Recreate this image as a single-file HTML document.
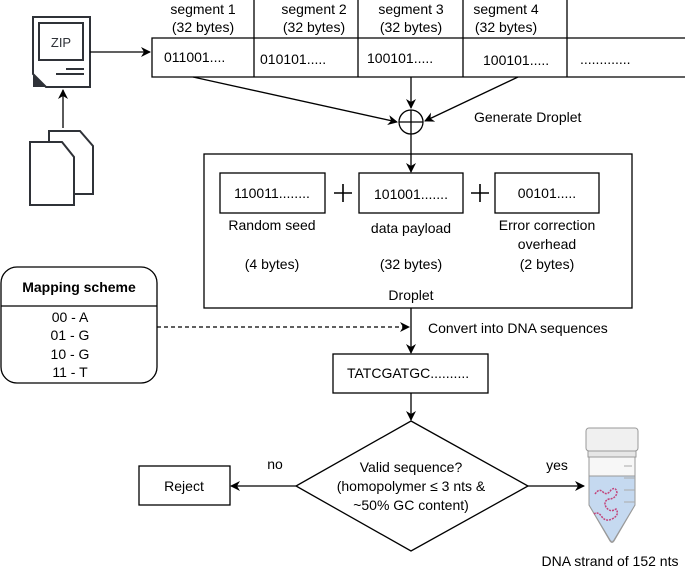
<!DOCTYPE html>
<html><head><meta charset="utf-8"><style>
body{margin:0;background:#fff}
svg{display:block;font-family:"Liberation Sans",sans-serif;font-size:14px}
</style></head><body>
<svg width="685" height="568" viewBox="0 0 685 568" xmlns="http://www.w3.org/2000/svg">
<defs>
<marker id="a" markerWidth="10" markerHeight="10" refX="9" refY="5" orient="auto" markerUnits="userSpaceOnUse"><path d="M0,0 L10,5 L0,10 L3,5 Z" fill="#000"/></marker>
</defs>
<g fill="#000" text-anchor="middle">
<text x="203" y="14">segment 1</text><text x="203" y="32">(32 bytes)</text>
<text x="314" y="14">segment 2</text><text x="314" y="32">(32 bytes)</text>
<text x="411" y="14">segment 3</text><text x="411" y="32">(32 bytes)</text>
<text x="506" y="14">segment 4</text><text x="506" y="32">(32 bytes)</text>
</g>
<g stroke="#000" stroke-width="1.3" fill="none">
<line x1="254" y1="0" x2="254" y2="77"/><line x1="358" y1="0" x2="358" y2="77"/>
<line x1="463" y1="0" x2="463" y2="77"/><line x1="567" y1="0" x2="567" y2="77"/>
<path d="M685,38 H152 V77 H685"/>
</g>
<g fill="#000">
<text x="164" y="62">011001....</text><text x="260" y="64">010101.....</text>
<text x="367" y="63">100101.....</text><text x="483" y="65">100101.....</text>
<text x="580" y="64">.............</text>
</g>
<g stroke="#2f3238" stroke-width="2" fill="none">
<path d="M33,17 H90 V87 H46 L33,74 Z"/>
<rect x="39" y="23" width="44" height="37"/>
<line x1="56" y1="74" x2="84" y2="74"/><line x1="66" y1="69" x2="84" y2="69"/>
</g>
<path d="M33,74 L46,87 L33,87 Z" fill="#2f3238"/>
<text x="61" y="47" font-size="13" text-anchor="middle" fill="#2f3238">ZIP</text>
<line x1="90" y1="52" x2="150" y2="52" stroke="#000" stroke-width="1.3" marker-end="url(#a)"/>
<line x1="63" y1="128" x2="63" y2="90" stroke="#000" stroke-width="1.3" marker-end="url(#a)"/>
<g stroke="#2f3238" stroke-width="2" fill="#fff">
<path d="M49,131 H80 L93,146 V194 H49 Z"/>
<path d="M30,142 H62 L74,157 V205 H30 Z"/>
</g>
<g stroke="#000" stroke-width="1.3" fill="none">
<circle cx="411" cy="122" r="12"/>
<line x1="399" y1="122" x2="423" y2="122"/><line x1="411" y1="110" x2="411" y2="134"/>
<line x1="193" y1="77" x2="397" y2="122" marker-end="url(#a)"/>
<line x1="411" y1="77" x2="411" y2="108" marker-end="url(#a)"/>
<line x1="518" y1="77" x2="425" y2="121" marker-end="url(#a)"/>
<line x1="411" y1="134" x2="411" y2="172" marker-end="url(#a)"/>
<rect x="204" y="154" width="428" height="154"/>
<rect x="220" y="173" width="105" height="40"/>
<rect x="359" y="173" width="104" height="40"/>
<rect x="495" y="173" width="104" height="40"/>
<path d="M334,193 H352 M343,184 V202 M471,193 H489 M480,184 V202" stroke-width="1.6"/>
</g>
<text x="474" y="122" fill="#000">Generate Droplet</text>
<g fill="#000" text-anchor="middle">
<text x="272" y="198">110011........</text>
<text x="411" y="199">101001.......</text>
<text x="547" y="198">00101.....</text>
<text x="272" y="230">Random seed</text>
<text x="411" y="233">data payload</text>
<text x="547" y="230">Error correction</text>
<text x="547" y="249">overhead</text>
<text x="272" y="269">(4 bytes)</text>
<text x="411" y="269">(32 bytes)</text>
<text x="547" y="269">(2 bytes)</text>
<text x="411" y="300">Droplet</text>
</g>
<rect x="1" y="267" width="156" height="116" rx="16" stroke="#000" stroke-width="1.3" fill="none"/>
<line x1="1" y1="306" x2="157" y2="306" stroke="#000" stroke-width="1.3"/>
<g fill="#000" text-anchor="middle">
<text x="79" y="292" font-weight="bold">Mapping scheme</text>
<text x="70" y="322">00 - A</text><text x="70" y="340">01 - G</text>
<text x="70" y="359">10 - G</text><text x="70" y="377">11 - T</text>
</g>
<line x1="157" y1="327" x2="409" y2="327" stroke="#000" stroke-width="1.2" stroke-dasharray="4,3" marker-end="url(#a)"/>
<text x="428" y="333" fill="#000">Convert into DNA sequences</text>
<g stroke="#000" stroke-width="1.3" fill="none">
<line x1="411" y1="308" x2="411" y2="353" marker-end="url(#a)"/>
<rect x="333" y="354" width="155" height="39"/>
<line x1="411" y1="393" x2="411" y2="420" marker-end="url(#a)"/>
<path d="M411,421 L528,486 L411,551 L296,486 Z" fill="#fff"/>
<line x1="296" y1="486" x2="231" y2="486" marker-end="url(#a)"/>
<rect x="139" y="466" width="91" height="39"/>
<line x1="528" y1="486" x2="584" y2="486" marker-end="url(#a)"/>
</g>
<text x="347" y="378" fill="#000">TATCGATGC..........</text>
<g fill="#000" text-anchor="middle">
<text x="411" y="472">Valid sequence?</text>
<text x="411" y="491">(homopolymer ≤ 3 nts &amp;</text>
<text x="411" y="510">~50% GC content)</text>
<text x="184" y="491">Reject</text>
<text x="275" y="469">no</text>
<text x="557" y="470">yes</text>
<text x="610" y="566">DNA strand of 152 nts</text>
</g>
<rect x="586" y="428" width="52" height="23" rx="3" fill="#f0f0f0" stroke="#999"/>
<rect x="588" y="451" width="48" height="6" fill="#e6e6e6" stroke="#999"/>
<path d="M589,457 H635 V505 L614,541 Q612,544 610,541 L589,505 Z" fill="#f7f7f7" stroke="#999"/>
<path d="M589,476 H635 V505 L614,540 Q612,543 610,540 L589,505 Z" fill="#c5d9f0" stroke="#999"/>
<path d="M595,494 q4,-6 8,-2 q4,4 8,-2 q5,-4 6,3 q-2,6 -8,6 q-6,2 -3,8 q4,6 10,2 q4,6 -4,10 q-6,3 -10,-2 q-4,-6 -8,-3" fill="none" stroke="#c2447a" stroke-width="1.5" stroke-dasharray="2,1"/>
<path d="M624,466 h8 M624,478 h11 M624,490 h11 M624,502 h11" stroke="#aaa"/>
</svg>
</body></html>
